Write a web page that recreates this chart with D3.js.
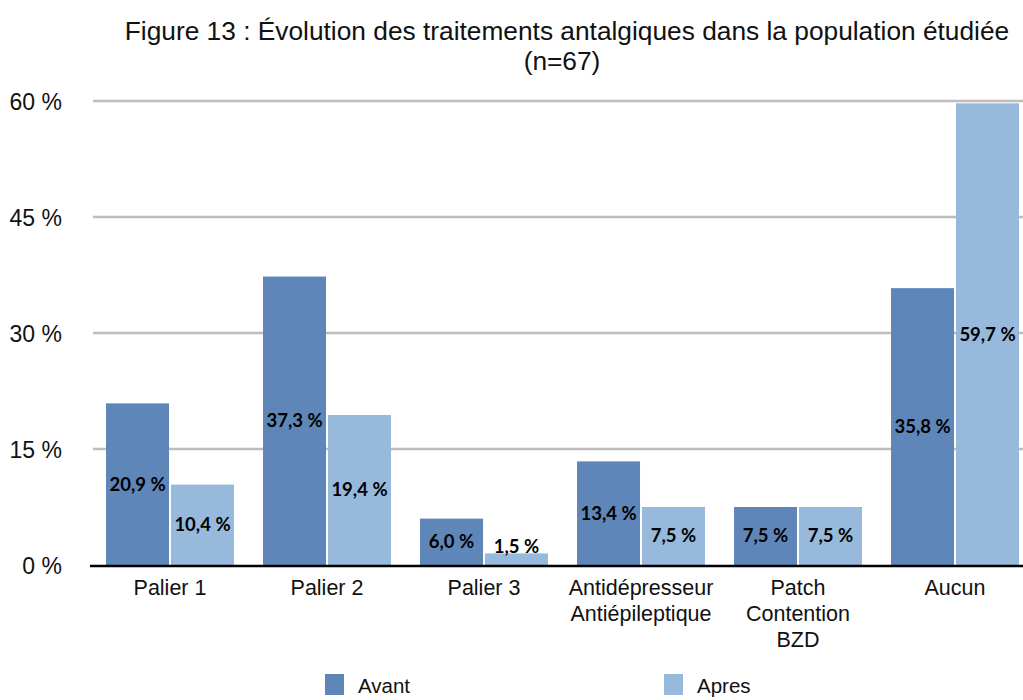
<!DOCTYPE html>
<html><head><meta charset="utf-8">
<script src="https://cdn.jsdelivr.net/npm/d3@7"></script>
<style>body{margin:0;background:#fff}svg{display:block}</style>
</head><body>
<svg id="c" width="1023" height="700"></svg>
<script>
const categories = ["Palier 1", "Palier 2", "Palier 3", "Antidépresseur\nAntiépileptique", "Patch\nContention\nBZD", "Aucun"];
const seriesNames = ["Avant", "Apres"];
const avant = [20.9, 37.3, 6.0, 13.4, 7.5, 35.8];
const apres = [10.4, 19.4, 1.5, 7.5, 7.5, 59.7];
const yTicks = [0, 15, 30, 45, 60];
const colors = ["#5e86b9", "#96b9dc"];
const titleLines = ["Figure 13 : Évolution des traitements antalgiques dans la population étudiée", "(n=67)"];

(function(){
const svg = d3.select("#c");
const W = 1023;
const mLeft = 91.5, mRight = 1033.5, mTop = 101, mBottom = 565;
const font = "'Liberation Sans', Arial, sans-serif";

const x = d3.scaleBand().domain(categories).range([mLeft, mRight]).paddingInner(0.185).paddingOuter(0.0925);
const xs = d3.scaleBand().domain(seriesNames).range([0, x.bandwidth()]).paddingInner(0.03);
const y = d3.scaleLinear().domain([0, 60]).range([mBottom, mTop]);

svg.append("g").selectAll("text").data(titleLines).join("text")
  .attr("x", (d,i)=> i===0 ? 567 : 562).attr("y", (d,i)=>40 + i*30)
  .attr("text-anchor","middle").attr("font-family",font).attr("font-size",26.3).attr("fill","#111")
  .text(d=>d);

svg.append("g").selectAll("line").data(yTicks.filter(t=>t>0)).join("line")
  .attr("x1", 93).attr("x2", W).attr("y1", d=>y(d)).attr("y2", d=>y(d))
  .attr("stroke","#bdbdbd").attr("stroke-width",2.5);

const yAxis = d3.axisLeft(y).tickValues(yTicks).tickSize(0).tickPadding(0).tickFormat(d=>d+" %");
const ga = svg.append("g").attr("transform","translate(62,0)").call(yAxis);
ga.select(".domain").remove();
ga.selectAll("text").attr("font-family",font).attr("font-size",23).attr("fill","#111").attr("dy","0.35em");

const data = categories.map((c,i)=>({cat:c, vals:[{s:"Avant",v:avant[i]},{s:"Apres",v:apres[i]}]}));
const g = svg.append("g").selectAll("g").data(data).join("g").attr("transform", d=>`translate(${x(d.cat)},0)`);
g.selectAll("rect").data(d=>d.vals).join("rect")
  .attr("x", d=>xs(d.s)).attr("width", xs.bandwidth())
  .attr("y", d=>y(d.v)).attr("height", d=>mBottom - y(d.v))
  .attr("fill", (d,i)=>colors[i]);
g.selectAll("text.v").data(d=>d.vals).join("text").attr("class","v")
  .attr("x", d=>xs(d.s)+xs.bandwidth()/2)
  .attr("y", d=>Math.min((y(d.v)+mBottom)/2, mBottom-18))
  .attr("dy","0.35em").attr("text-anchor","middle")
  .attr("font-family","Lato, 'Open Sans', sans-serif").attr("font-weight","bold").attr("font-size",18.5).attr("fill","#000")
  .text(d=>d.v.toFixed(1).replace(".", ",")+" %");

svg.append("line").attr("x1",90).attr("x2",W).attr("y1",mBottom+1).attr("y2",mBottom+1).attr("stroke","#000").attr("stroke-width",2.5);

const gx = svg.append("g").selectAll("text").data(categories).join("text")
  .attr("x", d=>x(d)+x.bandwidth()/2).attr("text-anchor","middle")
  .attr("font-family",font).attr("font-size",21.5).attr("fill","#111");
gx.selectAll("tspan").data(d=>d.split("\n")).join("tspan")
  .attr("x", function(){return this.parentNode.getAttribute("x");})
  .attr("y", (d,i)=>595 + i*26).text(d=>d);

const legX = [325, 664];
const lg = svg.append("g").selectAll("g").data(seriesNames).join("g").attr("transform",(d,i)=>`translate(${legX[i]},674)`);
lg.append("rect").attr("width",19).attr("height",21).attr("fill",(d,i)=>colors[i]);
lg.append("text").attr("x",33).attr("y",19).attr("font-family",font).attr("font-size",20.5).attr("fill","#111").text(d=>d);
})();
</script>
</body></html>
